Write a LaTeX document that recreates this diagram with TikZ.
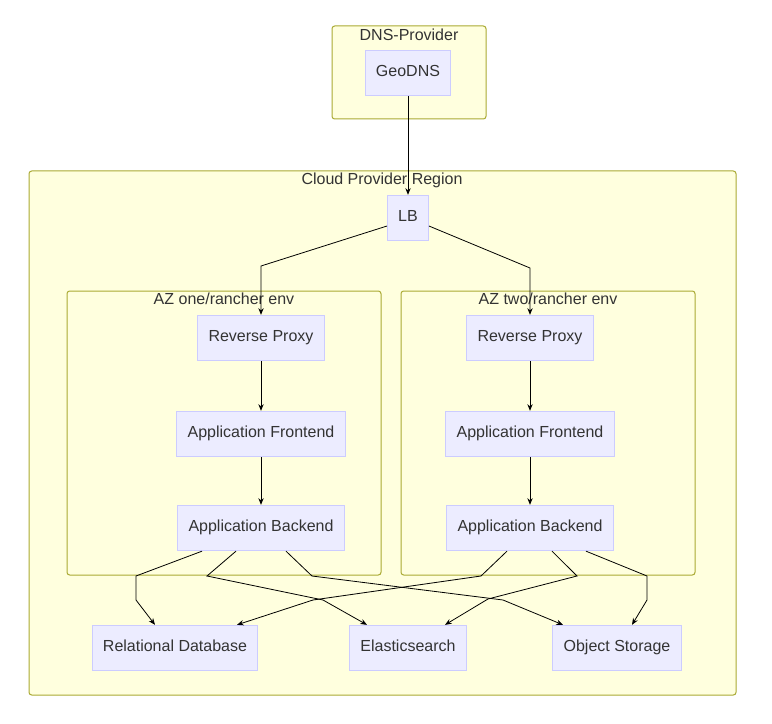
\documentclass[tikz,border=0pt]{standalone}
\usepackage{fontspec}
\setmainfont{Liberation Sans}
\usetikzlibrary{positioning,arrows.meta,calc}
\definecolor{clusterfill}{HTML}{FFFFDE}
\definecolor{clusterline}{HTML}{AAAA33}
\definecolor{nodefill}{HTML}{ECECFF}
\definecolor{nodeline}{HTML}{CCCCFF}
\definecolor{textgray}{HTML}{333333}

\begin{document}
\begin{tikzpicture}[
  x=0.75pt, y=-0.75pt,
  font=\fontsize{12}{14}\selectfont,
  >={Stealth[length=5pt,width=4pt]},
  svcnode/.style={rectangle, draw=nodeline, fill=nodefill, text=textgray, minimum height=34pt, inner xsep=8pt, text height=0.72em, text depth=0.22em, line width=0.75pt},
  cluster/.style={draw=clusterline, fill=clusterfill, rounded corners=2pt, line width=0.75pt},
  clusterlabel/.style={text=textgray, inner sep=1pt},
  flow/.style={->, draw=black, line width=0.6pt}
]
  \useasboundingbox[fill=white] (0,0) rectangle (772,724);
  % clusters
  \draw[cluster] (332,26) rectangle (486,119);
  \node[clusterlabel] (dnslabel) at (409,35) {DNS-Provider};
  \draw[cluster] (29,171) rectangle (736,695);
  \node[clusterlabel] (regionlabel) at (382,180) {Cloud Provider Region};
  \draw[cluster] (67,291) rectangle (381,575);
  \node[clusterlabel] (azonelabel) at (224,299) {AZ one/rancher env};
  \draw[cluster] (401,291) rectangle (695,575);
  \node[clusterlabel] (aztwolabel) at (548,299) {AZ two/rancher env};

  % services
  \node[svcnode] (geodns) at (408,73) {GeoDNS};
  \node[svcnode] (lb) at (408,218) {LB};
  \node[svcnode] (rp1) at (261,338) {Reverse Proxy};
  \node[svcnode] (af1) at (261,434) {Application Frontend};
  \node[svcnode] (ab1) at (261,528) {Application Backend};
  \node[svcnode] (rp2) at (530,338) {Reverse Proxy};
  \node[svcnode] (af2) at (530,434) {Application Frontend};
  \node[svcnode] (ab2) at (530,528) {Application Backend};
  \node[svcnode] (rdb) at (175,648) {Relational Database};
  \node[svcnode] (es) at (408,648) {Elasticsearch};
  \node[svcnode] (obj) at (617,648) {Object Storage};

  % connectors
  \draw[flow] (geodns) -- (lb);
  \draw[flow] ($(lb.west)+(0,8)$) -- (261,266) -- (rp1.north);
  \draw[flow] ($(lb.east)+(0,8)$) -- (530,268) -- (rp2.north);
  \draw[flow] (rp1) -- (af1);
  \draw[flow] (af1) -- (ab1);
  \draw[flow] (rp2) -- (af2);
  \draw[flow] (af2) -- (ab2);

  \draw[flow] ($(ab1.south)+(-59,0)$) -- (136,576) -- (136,600) -- ($(rdb.north)+(-20,0)$);
  \draw[flow] ($(ab1.south)+(-25,0)$) -- (207,576) -- (323,600) -- ($(es.north)+(-41,0)$);
  \draw[flow] ($(ab1.south)+(25,0)$) -- (312,576) -- (503,600) -- ($(obj.north)+(-54,0)$);
  \draw[flow] ($(ab2.south)+(-23,0)$) -- (481,576) -- (313,600) -- ($(rdb.north)+(62,0)$);
  \draw[flow] ($(ab2.south)+(22,0)$) -- (577,576) -- (488,599) -- ($(es.north)+(37,0)$);
  \draw[flow] ($(ab2.south)+(56,0)$) -- (647,576) -- (647,600) -- ($(obj.north)+(15,0)$);
\end{tikzpicture}
\end{document}
